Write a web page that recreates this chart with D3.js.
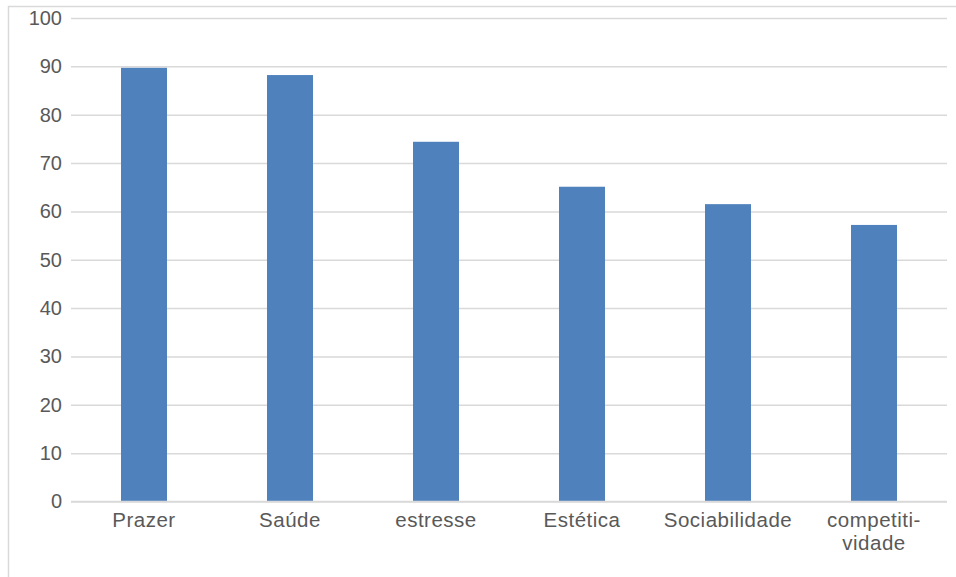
<!DOCTYPE html>
<html><head><meta charset="utf-8">
<script src="https://cdn.jsdelivr.net/npm/d3@7"></script>
<style>body{margin:0;background:#fff;}svg{display:block;}</style>
</head><body>
<svg id="chart" width="956" height="577"></svg>
<script>
const categories = ["Prazer", "Saúde", "estresse", "Estética", "Sociabilidade", "competiti-\nvidade"];
const values = [89.7, 88.2, 74.4, 65.1, 61.5, 57.2];
const yTicks = [0, 10, 20, 30, 40, 50, 60, 70, 80, 90, 100];

(function () {
const svg = d3.select("#chart");
const pLeft = 71, pRight = 947, pTop = 18, pBottom = 501.5;
const font = "'Liberation Sans', Arial, sans-serif";
const textColor = "#595959";
const gridColor = "#D9D9D9";

// chart border
svg.append("rect").attr("x", 8.5).attr("y", 6.5).attr("width", 1200).attr("height", 1200)
  .attr("fill", "none").attr("stroke", gridColor).attr("stroke-width", 1.5);

const x = d3.scaleBand().domain(categories).range([pLeft, pRight]).paddingInner(0.685).paddingOuter(0.3425);
const y = d3.scaleLinear().domain([0, 100]).range([pBottom, pTop]);

// gridlines + y axis labels
const yAxis = d3.axisLeft(y).tickValues(yTicks).tickSize(-(pRight - pLeft)).tickPadding(9).tickFormat(d3.format("d"));
const gy = svg.append("g").attr("transform", `translate(${pLeft},0)`).call(yAxis);
gy.select(".domain").remove();
gy.selectAll(".tick line").attr("stroke", gridColor).attr("stroke-width", 1.5);
gy.selectAll(".tick text").attr("fill", textColor).attr("font-family", font).attr("font-size", 20);

// bars
svg.append("g").selectAll("rect").data(values).join("rect")
  .attr("x", (d, i) => x(categories[i]))
  .attr("y", d => y(d))
  .attr("width", x.bandwidth())
  .attr("height", d => y(0) - y(d))
  .attr("fill", "#4F81BD");

// x axis line
svg.append("line").attr("x1", pLeft).attr("x2", pRight).attr("y1", y(0)).attr("y2", y(0))
  .attr("stroke", gridColor).attr("stroke-width", 1.5);

// category labels
const xl = svg.append("g").selectAll("text").data(categories).join("text")
  .attr("x", d => x(d) + x.bandwidth() / 2)
  .attr("y", 527)
  .attr("text-anchor", "middle")
  .attr("letter-spacing", 0.5)
  .attr("fill", textColor).attr("font-family", font).attr("font-size", 20.5);
xl.each(function (d) {
  const lines = d.split("\n");
  const t = d3.select(this);
  lines.forEach((ln, i) => {
    t.append("tspan").attr("x", x(d) + x.bandwidth() / 2).attr("dy", i === 0 ? 0 : 23).text(ln);
  });
});
})();
</script>
</body></html>
